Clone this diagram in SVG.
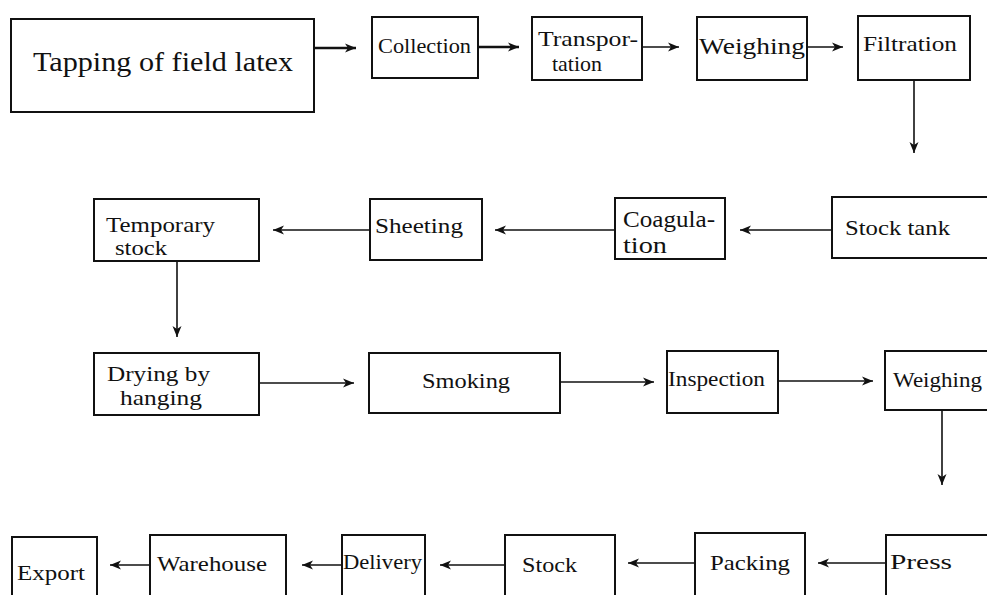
<svg xmlns="http://www.w3.org/2000/svg" width="987" height="595" viewBox="0 0 987 595">
<style>
.box{fill:#fff;stroke:#111;stroke-width:2}
.t{font-family:'Liberation Serif','Times New Roman',Times,serif;fill:#111}
.c{fill:none;stroke:#111;stroke-width:1.6}
.c2{fill:none;stroke:#111;stroke-width:2.4}
</style>
<defs>
<marker id="ah" markerUnits="userSpaceOnUse" markerWidth="12" markerHeight="10" refX="11" refY="5" orient="auto">
<path d="M0,0.5 L11,5 L0,9.5 L3,5 z" fill="#111"/>
</marker>
</defs>
<rect width="987" height="595" fill="#fff"/>
<g id="connectors">
<line class="c2" x1="314" y1="48" x2="356" y2="48" marker-end="url(#ah)"/>
<line class="c2" x1="478" y1="47" x2="519" y2="47" marker-end="url(#ah)"/>
<line class="c" x1="642" y1="47" x2="679" y2="47" marker-end="url(#ah)"/>
<line class="c" x1="807" y1="47" x2="843" y2="47" marker-end="url(#ah)"/>
<line class="c" x1="914" y1="80" x2="914" y2="153" marker-end="url(#ah)"/>
<line class="c" x1="832" y1="230" x2="740" y2="230" marker-end="url(#ah)"/>
<line class="c" x1="615" y1="230" x2="495" y2="230" marker-end="url(#ah)"/>
<line class="c" x1="370" y1="230" x2="273" y2="230" marker-end="url(#ah)"/>
<line class="c" x1="177" y1="261" x2="177" y2="337" marker-end="url(#ah)"/>
<line class="c" x1="259" y1="383" x2="354" y2="383" marker-end="url(#ah)"/>
<line class="c" x1="560" y1="382" x2="654" y2="382" marker-end="url(#ah)"/>
<line class="c" x1="778" y1="381" x2="873" y2="381" marker-end="url(#ah)"/>
<line class="c" x1="942" y1="410" x2="942" y2="485" marker-end="url(#ah)"/>
<line class="c" x1="886" y1="563" x2="818" y2="563" marker-end="url(#ah)"/>
<line class="c" x1="695" y1="563" x2="628" y2="563" marker-end="url(#ah)"/>
<line class="c" x1="505" y1="565" x2="440" y2="565" marker-end="url(#ah)"/>
<line class="c" x1="342" y1="565" x2="302" y2="565" marker-end="url(#ah)"/>
<line class="c" x1="150" y1="565" x2="110" y2="565" marker-end="url(#ah)"/>
</g>
<g id="tapping"><rect class="box" x="11" y="19" width="303" height="93"/><text class="t" x="33" y="71" font-size="27" textLength="260" lengthAdjust="spacingAndGlyphs">Tapping of field latex</text></g>
<g id="collection"><rect class="box" x="372" y="17" width="106" height="61"/><text class="t" x="378" y="53" font-size="20" textLength="93" lengthAdjust="spacingAndGlyphs">Collection</text></g>
<g id="transportation"><rect class="box" x="532" y="17" width="110" height="63"/><text class="t" x="538" y="46" font-size="22" textLength="100" lengthAdjust="spacingAndGlyphs">Transpor-</text><text class="t" x="552" y="71" font-size="22" textLength="50" lengthAdjust="spacingAndGlyphs">tation</text></g>
<g id="weighing1"><rect class="box" x="697" y="17" width="110" height="63"/><text class="t" x="699" y="54" font-size="24" textLength="106" lengthAdjust="spacingAndGlyphs">Weighing</text></g>
<g id="filtration"><rect class="box" x="858" y="16" width="112" height="64"/><text class="t" x="863" y="51" font-size="22" textLength="94" lengthAdjust="spacingAndGlyphs">Filtration</text></g>
<g id="stocktank"><rect class="box" x="832" y="197" width="170" height="61"/><text class="t" x="845" y="235" font-size="22" textLength="105" lengthAdjust="spacingAndGlyphs">Stock tank</text></g>
<g id="coagulation"><rect class="box" x="615" y="198" width="110" height="61"/><text class="t" x="623" y="227" font-size="23" textLength="92" lengthAdjust="spacingAndGlyphs">Coagula-</text><text class="t" x="623" y="253" font-size="23" textLength="44" lengthAdjust="spacingAndGlyphs">tion</text></g>
<g id="sheeting"><rect class="box" x="370" y="199" width="112" height="61"/><text class="t" x="375" y="233" font-size="22" textLength="88" lengthAdjust="spacingAndGlyphs">Sheeting</text></g>
<g id="temporarystock"><rect class="box" x="94" y="199" width="165" height="62"/><text class="t" x="106" y="232" font-size="21" textLength="109" lengthAdjust="spacingAndGlyphs">Temporary</text><text class="t" x="115" y="255" font-size="21" textLength="52" lengthAdjust="spacingAndGlyphs">stock</text></g>
<g id="drying"><rect class="box" x="94" y="353" width="165" height="62"/><text class="t" x="107" y="381" font-size="22" textLength="103" lengthAdjust="spacingAndGlyphs">Drying by</text><text class="t" x="120" y="405" font-size="22" textLength="82" lengthAdjust="spacingAndGlyphs">hanging</text></g>
<g id="smoking"><rect class="box" x="369" y="353" width="191" height="60"/><text class="t" x="422" y="388" font-size="22" textLength="88" lengthAdjust="spacingAndGlyphs">Smoking</text></g>
<g id="inspection"><rect class="box" x="667" y="351" width="111" height="62"/><text class="t" x="668" y="386" font-size="20" textLength="97" lengthAdjust="spacingAndGlyphs">Inspection</text></g>
<g id="weighing2"><rect class="box" x="885" y="351" width="120" height="59"/><text class="t" x="893" y="387" font-size="21" textLength="89" lengthAdjust="spacingAndGlyphs">Weighing</text></g>
<g id="press"><rect class="box" x="886" y="535" width="120" height="70"/><text class="t" x="890" y="569" font-size="22" textLength="62" lengthAdjust="spacingAndGlyphs">Press</text></g>
<g id="packing"><rect class="box" x="695" y="533" width="110" height="72"/><text class="t" x="710" y="570" font-size="22" textLength="80" lengthAdjust="spacingAndGlyphs">Packing</text></g>
<g id="stock"><rect class="box" x="505" y="535" width="110" height="70"/><text class="t" x="522" y="572" font-size="22" textLength="55" lengthAdjust="spacingAndGlyphs">Stock</text></g>
<g id="delivery"><rect class="box" x="342" y="535" width="83" height="70"/><text class="t" x="343" y="569" font-size="20" textLength="79" lengthAdjust="spacingAndGlyphs">Delivery</text></g>
<g id="warehouse"><rect class="box" x="150" y="535" width="136" height="70"/><text class="t" x="157" y="571" font-size="22" textLength="110" lengthAdjust="spacingAndGlyphs">Warehouse</text></g>
<g id="export"><rect class="box" x="12" y="537" width="85" height="68"/><text class="t" x="17" y="580" font-size="22" textLength="68" lengthAdjust="spacingAndGlyphs">Export</text></g>
</svg>
